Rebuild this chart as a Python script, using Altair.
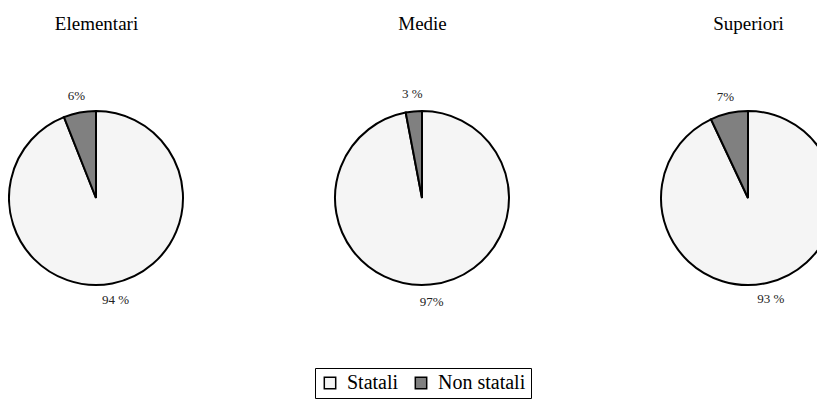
import altair as alt
import pandas as pd

groups = ["Elementari", "Medie", "Superiori"]
categories = ["Statali", "Non statali"]
statali = [94, 97, 93]
non_statali = [6, 3, 7]
labels_statali = ["94 %", "97%", "93 %"]
labels_non = ["6%", "3 %", "7%"]
colors = ["#f5f5f5", "#808080"]

rows = []
for i, g in enumerate(groups):
    rows.append({"group": g, "category": categories[0], "value": statali[i], "label": labels_statali[i], "order": 0})
    rows.append({"group": g, "category": categories[1], "value": non_statali[i], "label": labels_non[i], "order": 1})
df = pd.DataFrame(rows)

FONT = "Liberation Serif, Times New Roman, serif"

x_enc = alt.X(
    "group:N",
    sort=groups,
    scale=alt.Scale(type="point", domain=groups, range=[88, 740], padding=0),
    axis=alt.Axis(
        orient="top",
        title=None,
        ticks=False,
        tickSize=0,
        domain=False,
        grid=False,
        labelFont=FONT,
        labelFontSize=19,
        labelColor="black",
        labelBaseline="alphabetic",
        labelPadding=9,
        labelAngle=0,
    ),
)

theta_scale = alt.Scale(domain=[0, 100])

base = (
    alt.Chart(df)
    .transform_window(
        end="sum(value)",
        groupby=["group"],
        sort=[alt.SortField("order", order="ascending")],
        frame=[None, 0],
    )
    .transform_calculate(
        start="datum.end - datum.value",
        mid="datum.end - datum.value / 2",
    )
)

arcs = base.mark_arc(outerRadius=87, stroke="black", strokeWidth=2).encode(
    x=x_enc,
    theta=alt.Theta("start:Q", scale=theta_scale),
    theta2="end:Q",
    color=alt.Color(
        "category:N",
        scale=alt.Scale(domain=categories, range=colors),
        sort=categories,
        legend=alt.Legend(
            title=None,
            orient="none",
            legendX=307,
            legendY=330,
            direction="horizontal",
            symbolType="square",
            symbolSize=130,
            symbolStrokeColor="black",
            symbolStrokeWidth=1.5,
            labelFont=FONT,
            labelFontSize=20,
            labelColor="black",
            labelOffset=7,
            columnPadding=12,
            strokeColor="black",
            padding=5,
            cornerRadius=0,
        ),
    ),
)

text = base.mark_text(radius=104, font=FONT, fontSize=13, color="#222").encode(
    x=x_enc,
    theta=alt.Theta("mid:Q", scale=theta_scale),
    text="label:N",
)

chart = (
    alt.layer(arcs, text)
    .properties(
        width=809,
        height=320,
        autosize=alt.AutoSizeParams(type="none"),
        padding={"top": 30, "left": 0, "right": 0, "bottom": 42},
    )
    .configure_view(stroke=None)
    .configure_legend(labelFont=FONT, labelFontSize=20, labelColor="black")
)

chart.save("out.html", embed_options={"renderer": "svg", "actions": False})
